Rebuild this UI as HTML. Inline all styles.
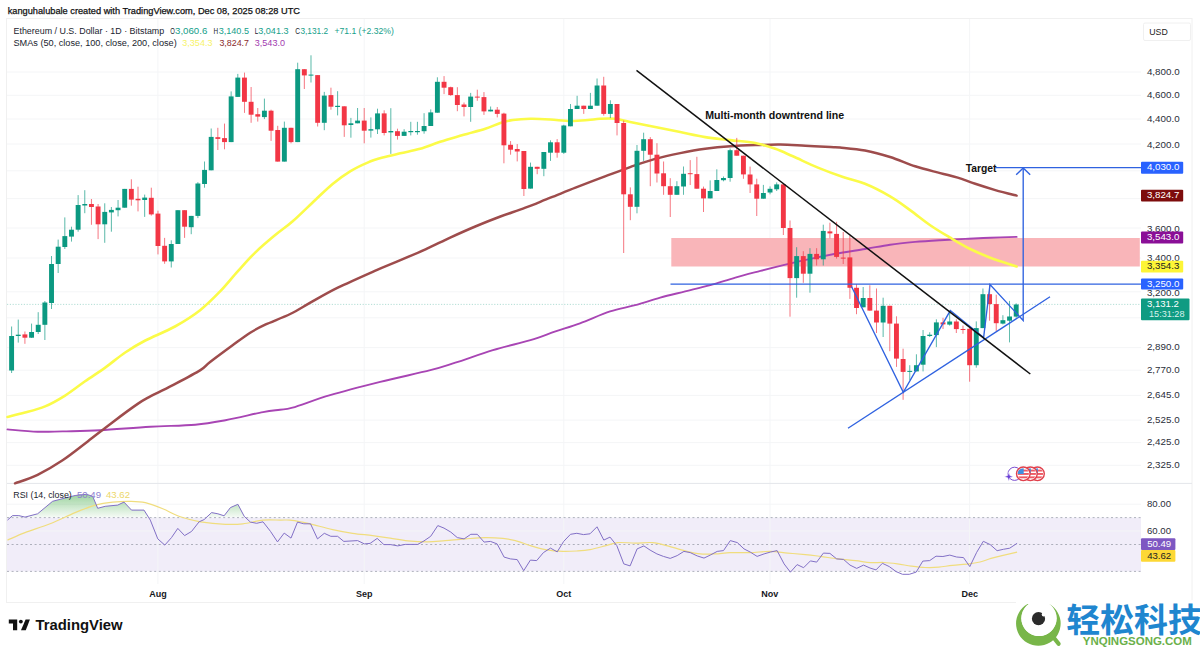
<!DOCTYPE html><html><head><meta charset="utf-8"><title>ETHUSD</title>
<style>html,body{margin:0;padding:0;background:#fff}body{width:1200px;height:647px;overflow:hidden;font-family:"Liberation Sans",sans-serif}svg{display:block}text{font-family:"Liberation Sans",sans-serif}</style></head><body>
<svg width="1200" height="647" viewBox="0 0 1200 647">
<rect width="1200" height="647" fill="#fff"/>
<rect x="6.5" y="18.5" width="1185.5" height="584" fill="none" stroke="#f0f0f0" stroke-width="1"/>
<rect x="7" y="517.6" width="1134" height="53.8" fill="#f1edf9"/>
<line x1="7" x2="1141" y1="72" y2="72" stroke="#f4f5f7" stroke-width="1"/>
<line x1="7" x2="1141" y1="95.3" y2="95.3" stroke="#f4f5f7" stroke-width="1"/>
<line x1="7" x2="1141" y1="119" y2="119" stroke="#f4f5f7" stroke-width="1"/>
<line x1="7" x2="1141" y1="144" y2="144" stroke="#f4f5f7" stroke-width="1"/>
<line x1="7" x2="1141" y1="170.8" y2="170.8" stroke="#f4f5f7" stroke-width="1"/>
<line x1="7" x2="1141" y1="198.6" y2="198.6" stroke="#f4f5f7" stroke-width="1"/>
<line x1="7" x2="1141" y1="228" y2="228" stroke="#f4f5f7" stroke-width="1"/>
<line x1="7" x2="1141" y1="258" y2="258" stroke="#f4f5f7" stroke-width="1"/>
<line x1="7" x2="1141" y1="291.8" y2="291.8" stroke="#f4f5f7" stroke-width="1"/>
<line x1="7" x2="1141" y1="317.8" y2="317.8" stroke="#f4f5f7" stroke-width="1"/>
<line x1="7" x2="1141" y1="347.6" y2="347.6" stroke="#f4f5f7" stroke-width="1"/>
<line x1="7" x2="1141" y1="370.2" y2="370.2" stroke="#f4f5f7" stroke-width="1"/>
<line x1="7" x2="1141" y1="395.4" y2="395.4" stroke="#f4f5f7" stroke-width="1"/>
<line x1="7" x2="1141" y1="420.1" y2="420.1" stroke="#f4f5f7" stroke-width="1"/>
<line x1="7" x2="1141" y1="442.6" y2="442.6" stroke="#f4f5f7" stroke-width="1"/>
<line x1="7" x2="1141" y1="465.3" y2="465.3" stroke="#f4f5f7" stroke-width="1"/>
<line x1="7" x2="1141" y1="504.2" y2="504.2" stroke="#f4f5f7" stroke-width="1"/>
<line x1="7" x2="1141" y1="531" y2="531" stroke="#f4f5f7" stroke-width="1"/>
<line x1="157.9" x2="157.9" y1="19" y2="584" stroke="#f4f5f7" stroke-width="1"/>
<line x1="364.2" x2="364.2" y1="19" y2="584" stroke="#f4f5f7" stroke-width="1"/>
<line x1="563.8" x2="563.8" y1="19" y2="584" stroke="#f4f5f7" stroke-width="1"/>
<line x1="770" x2="770" y1="19" y2="584" stroke="#f4f5f7" stroke-width="1"/>
<line x1="969.6" x2="969.6" y1="19" y2="584" stroke="#f4f5f7" stroke-width="1"/>
<line x1="7" x2="1192" y1="483.4" y2="483.4" stroke="#e4e6ea" stroke-width="1"/>
<rect x="671.3" y="238" width="468.5" height="28.5" fill="#f9b5b9"/>
<line x1="7" x2="1141" y1="304.4" y2="304.4" stroke="#9fd6cb" stroke-width="0.8" stroke-dasharray="1.2 1.6"/>
<path d="M7.5 429.4 C12.5 429.8 28.4 431.4 37.6 431.7 C46.8 432.0 52.2 431.6 62.6 431.4 C73.0 431.1 85.6 431.0 100.2 430.2 C114.8 429.4 134.5 427.6 150.3 426.7 C166.2 425.8 182.8 425.8 195.3 424.7 C207.8 423.6 214.1 422.3 225.4 420.2 C236.7 418.1 253.9 413.9 263.0 412.1 C272.1 410.4 275.1 410.4 280.0 409.7 C284.9 409.0 284.1 410.1 292.5 407.7 C300.9 405.3 315.5 399.5 330.1 395.2 C344.7 390.9 363.5 386.1 380.2 381.9 C396.9 377.7 417.8 373.4 430.3 370.2 C442.8 367.0 444.9 366.0 455.3 362.7 C465.7 359.4 480.4 353.9 492.9 350.1 C505.4 346.3 520.0 343.2 530.4 340.1 C540.8 337.0 547.2 334.2 555.5 331.4 C563.8 328.6 570.9 326.6 580.0 323.3 C589.1 320.0 600.9 314.4 610.1 311.4 C619.3 308.4 626.8 307.5 635.1 305.2 C643.5 302.9 651.9 300.0 660.2 297.7 C668.6 295.4 676.9 293.5 685.2 291.4 C693.6 289.3 701.9 287.4 710.3 285.1 C718.6 282.8 726.9 280.0 735.3 277.6 C743.6 275.2 752.0 273.1 760.4 270.9 C768.8 268.7 777.1 266.6 785.4 264.6 C793.7 262.6 802.0 260.7 810.4 258.9 C818.8 257.1 826.4 255.5 835.5 253.8 C844.6 252.2 855.9 250.5 865.0 249.0 C874.1 247.5 881.8 245.9 890.1 244.7 C898.5 243.5 906.8 242.7 915.1 241.9 C923.5 241.2 931.9 240.7 940.2 240.2 C948.6 239.7 956.9 239.3 965.2 238.9 C973.6 238.5 981.7 238.0 990.3 237.7 C998.9 237.4 1012.2 237.0 1016.6 236.9" fill="none" stroke="#a845b4" stroke-width="1.9" stroke-linecap="round"/>
<path d="M15.0 483.3 C18.8 481.9 29.7 478.7 37.6 474.8 C45.5 470.9 54.2 465.8 62.6 460.2 C71.0 454.6 79.4 447.7 87.7 441.4 C96.0 435.1 104.4 428.4 112.7 422.2 C121.0 415.9 131.4 408.2 137.7 403.9 C144.0 399.6 144.0 399.8 150.3 396.4 C156.6 393.0 167.0 388.2 175.3 383.8 C183.7 379.4 194.6 373.7 200.4 370.1 C206.2 366.5 204.7 366.1 210.1 362.0 C215.5 357.9 225.9 350.2 232.6 345.3 C239.3 340.4 244.8 336.1 250.2 332.7 C255.6 329.3 258.5 327.8 265.2 324.7 C271.9 321.6 282.7 317.7 290.2 314.0 C297.7 310.3 302.4 307.1 310.3 302.7 C318.2 298.3 327.0 293.0 337.8 287.7 C348.6 282.4 365.0 275.2 375.4 270.6 C385.8 266.0 392.0 263.7 400.4 260.1 C408.8 256.6 417.2 253.1 425.5 249.3 C433.8 245.6 441.9 241.4 450.2 237.6 C458.5 233.8 466.9 230.0 475.3 226.5 C483.7 223.0 492.0 219.6 500.4 216.5 C508.8 213.4 517.1 210.8 525.4 207.7 C533.7 204.6 542.0 201.0 550.4 197.7 C558.8 194.4 566.4 191.2 575.5 187.7 C584.6 184.1 595.9 179.8 605.0 176.4 C614.1 173.0 621.8 170.0 630.1 167.1 C638.5 164.2 646.8 161.2 655.1 158.9 C663.5 156.6 671.9 154.8 680.2 153.1 C688.6 151.4 696.9 149.9 705.2 148.8 C713.6 147.7 721.9 146.9 730.3 146.3 C738.6 145.7 746.9 145.4 755.3 145.1 C763.6 144.8 772.0 144.5 780.4 144.6 C788.8 144.7 797.1 145.4 805.4 145.8 C813.7 146.2 824.6 146.8 830.4 147.1 C836.2 147.4 834.2 146.9 840.0 147.5 C845.8 148.1 856.6 148.9 865.0 150.5 C873.4 152.1 881.8 154.4 890.1 157.0 C898.5 159.6 906.8 163.6 915.1 166.3 C923.5 169.0 933.1 171.2 940.2 173.1 C947.3 175.0 951.9 175.8 957.7 177.6 C963.5 179.4 968.9 181.7 975.2 183.8 C981.5 185.9 988.4 188.1 995.3 190.1 C1002.2 192.1 1013.0 194.7 1016.6 195.6" fill="none" stroke="#9e4c4c" stroke-width="2.5" stroke-linecap="round"/>
<path d="M7.5 416.9 C10.4 416.2 18.7 414.4 25.0 412.6 C31.3 410.9 38.4 409.2 45.1 406.4 C51.8 403.6 58.4 399.8 65.1 395.6 C71.8 391.4 78.4 386.0 85.1 381.3 C91.8 376.6 98.5 372.4 105.2 367.6 C111.9 362.8 118.5 357.0 125.2 352.5 C131.9 348.0 137.0 344.8 145.3 340.5 C153.6 336.2 165.9 331.6 175.0 326.5 C184.1 321.4 192.6 316.1 200.1 310.2 C207.6 304.3 213.8 297.9 220.1 291.4 C226.4 284.9 231.8 277.9 237.7 271.4 C243.5 264.9 248.9 258.6 255.2 252.6 C261.4 246.6 268.9 240.3 275.2 235.1 C281.4 229.9 286.1 227.1 292.7 221.3 C299.3 215.5 308.4 206.4 315.0 200.2 C321.6 194.0 326.8 188.7 332.6 183.9 C338.5 179.1 344.3 175.0 350.1 171.4 C355.9 167.8 362.2 164.9 367.6 162.6 C373.0 160.3 377.2 159.1 382.6 157.6 C388.0 156.1 393.9 154.8 400.2 153.3 C406.5 151.8 413.5 150.7 420.2 148.8 C426.9 146.9 433.1 144.1 440.2 141.8 C447.3 139.5 455.3 137.3 462.8 135.1 C470.3 132.9 479.0 130.8 485.3 128.8 C491.6 126.8 495.8 124.5 500.4 123.0 C505.0 121.5 507.9 120.7 512.9 120.0 C517.9 119.3 524.1 118.9 530.4 118.8 C536.6 118.7 543.7 119.1 550.4 119.5 C557.1 119.9 564.2 120.9 570.5 121.0 C576.8 121.1 583.1 120.4 588.0 120.0 C592.9 119.6 595.5 119.0 600.0 118.8 C604.5 118.6 610.0 118.3 615.0 118.8 C620.0 119.3 623.4 120.6 630.1 122.0 C636.8 123.4 646.8 125.3 655.1 127.0 C663.5 128.7 671.9 130.4 680.2 132.1 C688.6 133.8 696.9 135.8 705.2 137.1 C713.6 138.4 721.9 139.1 730.3 140.1 C738.6 141.1 747.8 141.6 755.3 143.1 C762.8 144.6 769.0 146.6 775.3 148.8 C781.6 151.0 785.8 153.2 792.9 156.3 C800.0 159.4 809.5 164.2 817.9 167.6 C826.2 171.0 835.1 174.3 843.0 177.0 C850.9 179.7 857.1 180.6 865.0 183.8 C872.9 187.0 882.6 192.0 890.1 196.4 C897.6 200.8 903.4 205.3 910.1 210.1 C916.8 214.9 923.5 220.6 930.2 225.2 C936.9 229.8 943.5 233.7 950.2 237.7 C956.9 241.7 963.5 245.7 970.2 249.0 C976.9 252.3 982.6 254.8 990.3 257.7 C998.0 260.6 1012.2 265.0 1016.6 266.5" fill="none" stroke="#fbfb48" stroke-width="2.6" stroke-linecap="round"/>
<line x1="11.60" x2="11.60" y1="326.5" y2="373.0" stroke="#0b9981" stroke-width="0.9" opacity="0.75"/>
<rect x="9.15" y="336.0" width="4.9" height="34.5" fill="#0b9981"/>
<line x1="18.25" x2="18.25" y1="319.6" y2="342.6" stroke="#0b9981" stroke-width="0.9" opacity="0.75"/>
<rect x="15.80" y="334.7" width="4.9" height="1.3" fill="#0b9981"/>
<line x1="24.91" x2="24.91" y1="331.5" y2="343.8" stroke="#f23645" stroke-width="0.9" opacity="0.75"/>
<rect x="22.46" y="334.4" width="4.9" height="3.3" fill="#f23645"/>
<line x1="31.56" x2="31.56" y1="323.6" y2="338.0" stroke="#0b9981" stroke-width="0.9" opacity="0.75"/>
<rect x="29.11" y="332.0" width="4.9" height="5.7" fill="#0b9981"/>
<line x1="38.21" x2="38.21" y1="312.2" y2="334.0" stroke="#0b9981" stroke-width="0.9" opacity="0.75"/>
<rect x="35.76" y="324.8" width="4.9" height="7.2" fill="#0b9981"/>
<line x1="44.87" x2="44.87" y1="301.0" y2="340.0" stroke="#0b9981" stroke-width="0.9" opacity="0.75"/>
<rect x="42.41" y="302.5" width="4.9" height="22.3" fill="#0b9981"/>
<line x1="51.52" x2="51.52" y1="256.0" y2="309.0" stroke="#0b9981" stroke-width="0.9" opacity="0.75"/>
<rect x="49.07" y="264.0" width="4.9" height="39.0" fill="#0b9981"/>
<line x1="58.17" x2="58.17" y1="239.6" y2="273.0" stroke="#0b9981" stroke-width="0.9" opacity="0.75"/>
<rect x="55.72" y="246.7" width="4.9" height="17.3" fill="#0b9981"/>
<line x1="64.82" x2="64.82" y1="217.4" y2="249.0" stroke="#0b9981" stroke-width="0.9" opacity="0.75"/>
<rect x="62.37" y="236.1" width="4.9" height="10.9" fill="#0b9981"/>
<line x1="71.48" x2="71.48" y1="226.7" y2="241.6" stroke="#0b9981" stroke-width="0.9" opacity="0.75"/>
<rect x="69.03" y="229.7" width="4.9" height="6.9" fill="#0b9981"/>
<line x1="78.13" x2="78.13" y1="195.1" y2="231.7" stroke="#0b9981" stroke-width="0.9" opacity="0.75"/>
<rect x="75.68" y="205.0" width="4.9" height="24.7" fill="#0b9981"/>
<line x1="84.78" x2="84.78" y1="190.2" y2="213.2" stroke="#0b9981" stroke-width="0.9" opacity="0.75"/>
<rect x="82.33" y="204.0" width="4.9" height="1.5" fill="#0b9981"/>
<line x1="91.44" x2="91.44" y1="199.0" y2="224.8" stroke="#f23645" stroke-width="0.9" opacity="0.75"/>
<rect x="88.99" y="204.0" width="4.9" height="3.0" fill="#f23645"/>
<line x1="98.09" x2="98.09" y1="204.0" y2="239.1" stroke="#f23645" stroke-width="0.9" opacity="0.75"/>
<rect x="95.64" y="206.5" width="4.9" height="17.8" fill="#f23645"/>
<line x1="104.74" x2="104.74" y1="203.3" y2="242.8" stroke="#0b9981" stroke-width="0.9" opacity="0.75"/>
<rect x="102.29" y="211.9" width="4.9" height="12.4" fill="#0b9981"/>
<line x1="111.39" x2="111.39" y1="207.0" y2="231.7" stroke="#0b9981" stroke-width="0.9" opacity="0.75"/>
<rect x="108.94" y="209.9" width="4.9" height="2.5" fill="#0b9981"/>
<line x1="118.05" x2="118.05" y1="200.0" y2="216.4" stroke="#0b9981" stroke-width="0.9" opacity="0.75"/>
<rect x="115.60" y="207.7" width="4.9" height="2.5" fill="#0b9981"/>
<line x1="124.70" x2="124.70" y1="188.9" y2="207.7" stroke="#0b9981" stroke-width="0.9" opacity="0.75"/>
<rect x="122.25" y="188.9" width="4.9" height="18.8" fill="#0b9981"/>
<line x1="131.35" x2="131.35" y1="179.3" y2="205.7" stroke="#f23645" stroke-width="0.9" opacity="0.75"/>
<rect x="128.90" y="188.9" width="4.9" height="10.7" fill="#f23645"/>
<line x1="138.01" x2="138.01" y1="186.7" y2="211.4" stroke="#f23645" stroke-width="0.9" opacity="0.75"/>
<rect x="135.56" y="198.8" width="4.9" height="1.5" fill="#f23645"/>
<line x1="144.66" x2="144.66" y1="194.6" y2="216.9" stroke="#0b9981" stroke-width="0.9" opacity="0.75"/>
<rect x="142.21" y="197.6" width="4.9" height="2.4" fill="#0b9981"/>
<line x1="151.31" x2="151.31" y1="187.7" y2="215.6" stroke="#f23645" stroke-width="0.9" opacity="0.75"/>
<rect x="148.86" y="197.8" width="4.9" height="16.6" fill="#f23645"/>
<line x1="157.97" x2="157.97" y1="210.7" y2="254.4" stroke="#f23645" stroke-width="0.9" opacity="0.75"/>
<rect x="155.52" y="213.6" width="4.9" height="32.4" fill="#f23645"/>
<line x1="164.62" x2="164.62" y1="237.9" y2="263.8" stroke="#f23645" stroke-width="0.9" opacity="0.75"/>
<rect x="162.17" y="245.8" width="4.9" height="15.6" fill="#f23645"/>
<line x1="171.27" x2="171.27" y1="240.3" y2="267.5" stroke="#0b9981" stroke-width="0.9" opacity="0.75"/>
<rect x="168.82" y="244.0" width="4.9" height="17.4" fill="#0b9981"/>
<line x1="177.92" x2="177.92" y1="210.2" y2="244.0" stroke="#0b9981" stroke-width="0.9" opacity="0.75"/>
<rect x="175.47" y="210.2" width="4.9" height="33.8" fill="#0b9981"/>
<line x1="184.58" x2="184.58" y1="210.2" y2="237.9" stroke="#f23645" stroke-width="0.9" opacity="0.75"/>
<rect x="182.13" y="210.2" width="4.9" height="16.5" fill="#f23645"/>
<line x1="191.23" x2="191.23" y1="215.9" y2="234.2" stroke="#0b9981" stroke-width="0.9" opacity="0.75"/>
<rect x="188.78" y="215.9" width="4.9" height="11.3" fill="#0b9981"/>
<line x1="197.88" x2="197.88" y1="182.2" y2="218.1" stroke="#0b9981" stroke-width="0.9" opacity="0.75"/>
<rect x="195.43" y="183.5" width="4.9" height="32.4" fill="#0b9981"/>
<line x1="204.54" x2="204.54" y1="161.5" y2="187.7" stroke="#0b9981" stroke-width="0.9" opacity="0.75"/>
<rect x="202.09" y="169.9" width="4.9" height="14.1" fill="#0b9981"/>
<line x1="211.19" x2="211.19" y1="128.5" y2="170.3" stroke="#0b9981" stroke-width="0.9" opacity="0.75"/>
<rect x="208.74" y="136.9" width="4.9" height="33.4" fill="#0b9981"/>
<line x1="217.84" x2="217.84" y1="127.8" y2="150.0" stroke="#f23645" stroke-width="0.9" opacity="0.75"/>
<rect x="215.39" y="137.2" width="4.9" height="1.7" fill="#f23645"/>
<line x1="224.50" x2="224.50" y1="123.6" y2="149.3" stroke="#f23645" stroke-width="0.9" opacity="0.75"/>
<rect x="222.05" y="138.1" width="4.9" height="4.0" fill="#f23645"/>
<line x1="231.15" x2="231.15" y1="91.4" y2="142.1" stroke="#0b9981" stroke-width="0.9" opacity="0.75"/>
<rect x="228.70" y="96.4" width="4.9" height="45.7" fill="#0b9981"/>
<line x1="237.80" x2="237.80" y1="73.9" y2="96.9" stroke="#0b9981" stroke-width="0.9" opacity="0.75"/>
<rect x="235.35" y="77.6" width="4.9" height="19.3" fill="#0b9981"/>
<line x1="244.45" x2="244.45" y1="72.6" y2="112.9" stroke="#f23645" stroke-width="0.9" opacity="0.75"/>
<rect x="242.00" y="77.6" width="4.9" height="24.2" fill="#f23645"/>
<line x1="251.11" x2="251.11" y1="87.0" y2="122.8" stroke="#f23645" stroke-width="0.9" opacity="0.75"/>
<rect x="248.66" y="101.8" width="4.9" height="12.9" fill="#f23645"/>
<line x1="257.76" x2="257.76" y1="108.0" y2="121.6" stroke="#f23645" stroke-width="0.9" opacity="0.75"/>
<rect x="255.31" y="114.2" width="4.9" height="2.4" fill="#f23645"/>
<line x1="264.41" x2="264.41" y1="98.6" y2="119.1" stroke="#0b9981" stroke-width="0.9" opacity="0.75"/>
<rect x="261.96" y="110.7" width="4.9" height="6.4" fill="#0b9981"/>
<line x1="271.07" x2="271.07" y1="109.7" y2="140.9" stroke="#f23645" stroke-width="0.9" opacity="0.75"/>
<rect x="268.62" y="110.7" width="4.9" height="20.0" fill="#f23645"/>
<line x1="277.72" x2="277.72" y1="125.8" y2="161.6" stroke="#f23645" stroke-width="0.9" opacity="0.75"/>
<rect x="275.27" y="130.0" width="4.9" height="31.6" fill="#f23645"/>
<line x1="284.37" x2="284.37" y1="121.6" y2="161.6" stroke="#0b9981" stroke-width="0.9" opacity="0.75"/>
<rect x="281.92" y="127.8" width="4.9" height="33.8" fill="#0b9981"/>
<line x1="291.03" x2="291.03" y1="127.8" y2="143.3" stroke="#f23645" stroke-width="0.9" opacity="0.75"/>
<rect x="288.58" y="127.8" width="4.9" height="14.3" fill="#f23645"/>
<line x1="297.68" x2="297.68" y1="62.7" y2="142.1" stroke="#0b9981" stroke-width="0.9" opacity="0.75"/>
<rect x="295.23" y="69.2" width="4.9" height="72.9" fill="#0b9981"/>
<line x1="304.33" x2="304.33" y1="69.2" y2="89.0" stroke="#f23645" stroke-width="0.9" opacity="0.75"/>
<rect x="301.88" y="69.2" width="4.9" height="6.2" fill="#f23645"/>
<line x1="310.99" x2="310.99" y1="55.3" y2="82.5" stroke="#0b9981" stroke-width="0.9" opacity="0.75"/>
<rect x="308.54" y="74.6" width="4.9" height="1.0" fill="#0b9981"/>
<line x1="317.64" x2="317.64" y1="75.1" y2="126.5" stroke="#f23645" stroke-width="0.9" opacity="0.75"/>
<rect x="315.19" y="75.1" width="4.9" height="47.7" fill="#f23645"/>
<line x1="324.29" x2="324.29" y1="91.9" y2="130.2" stroke="#0b9981" stroke-width="0.9" opacity="0.75"/>
<rect x="321.84" y="95.6" width="4.9" height="27.2" fill="#0b9981"/>
<line x1="330.94" x2="330.94" y1="87.7" y2="109.7" stroke="#f23645" stroke-width="0.9" opacity="0.75"/>
<rect x="328.49" y="95.1" width="4.9" height="11.6" fill="#f23645"/>
<line x1="337.60" x2="337.60" y1="91.2" y2="115.4" stroke="#0b9981" stroke-width="0.9" opacity="0.75"/>
<rect x="335.15" y="105.8" width="4.9" height="1.2" fill="#0b9981"/>
<line x1="344.25" x2="344.25" y1="106.3" y2="136.9" stroke="#f23645" stroke-width="0.9" opacity="0.75"/>
<rect x="341.80" y="106.3" width="4.9" height="19.0" fill="#f23645"/>
<line x1="350.90" x2="350.90" y1="117.9" y2="137.7" stroke="#0b9981" stroke-width="0.9" opacity="0.75"/>
<rect x="348.45" y="123.3" width="4.9" height="1.7" fill="#0b9981"/>
<line x1="357.56" x2="357.56" y1="108.0" y2="123.3" stroke="#0b9981" stroke-width="0.9" opacity="0.75"/>
<rect x="355.11" y="120.6" width="4.9" height="2.7" fill="#0b9981"/>
<line x1="364.21" x2="364.21" y1="108.0" y2="143.3" stroke="#f23645" stroke-width="0.9" opacity="0.75"/>
<rect x="361.76" y="120.6" width="4.9" height="10.1" fill="#f23645"/>
<line x1="370.86" x2="370.86" y1="117.4" y2="137.6" stroke="#0b9981" stroke-width="0.9" opacity="0.75"/>
<rect x="368.41" y="129.2" width="4.9" height="1.4" fill="#0b9981"/>
<line x1="377.51" x2="377.51" y1="108.7" y2="134.0" stroke="#0b9981" stroke-width="0.9" opacity="0.75"/>
<rect x="375.06" y="113.4" width="4.9" height="15.9" fill="#0b9981"/>
<line x1="384.17" x2="384.17" y1="110.3" y2="135.4" stroke="#f23645" stroke-width="0.9" opacity="0.75"/>
<rect x="381.72" y="113.4" width="4.9" height="19.6" fill="#f23645"/>
<line x1="390.82" x2="390.82" y1="108.2" y2="153.9" stroke="#0b9981" stroke-width="0.9" opacity="0.75"/>
<rect x="388.37" y="131.0" width="4.9" height="1.4" fill="#0b9981"/>
<line x1="397.47" x2="397.47" y1="128.7" y2="139.6" stroke="#f23645" stroke-width="0.9" opacity="0.75"/>
<rect x="395.02" y="131.2" width="4.9" height="4.7" fill="#f23645"/>
<line x1="404.13" x2="404.13" y1="129.2" y2="135.9" stroke="#0b9981" stroke-width="0.9" opacity="0.75"/>
<rect x="401.68" y="131.7" width="4.9" height="4.2" fill="#0b9981"/>
<line x1="410.78" x2="410.78" y1="121.8" y2="135.4" stroke="#0b9981" stroke-width="0.9" opacity="0.75"/>
<rect x="408.33" y="131.0" width="4.9" height="1.2" fill="#0b9981"/>
<line x1="417.43" x2="417.43" y1="121.8" y2="134.7" stroke="#0b9981" stroke-width="0.9" opacity="0.75"/>
<rect x="414.98" y="131.0" width="4.9" height="1.2" fill="#0b9981"/>
<line x1="424.09" x2="424.09" y1="113.2" y2="133.7" stroke="#0b9981" stroke-width="0.9" opacity="0.75"/>
<rect x="421.64" y="126.0" width="4.9" height="5.2" fill="#0b9981"/>
<line x1="430.74" x2="430.74" y1="109.4" y2="126.0" stroke="#0b9981" stroke-width="0.9" opacity="0.75"/>
<rect x="428.29" y="112.4" width="4.9" height="13.6" fill="#0b9981"/>
<line x1="437.39" x2="437.39" y1="77.3" y2="112.7" stroke="#0b9981" stroke-width="0.9" opacity="0.75"/>
<rect x="434.94" y="81.8" width="4.9" height="30.9" fill="#0b9981"/>
<line x1="444.05" x2="444.05" y1="76.1" y2="94.1" stroke="#f23645" stroke-width="0.9" opacity="0.75"/>
<rect x="441.60" y="81.8" width="4.9" height="5.9" fill="#f23645"/>
<line x1="450.70" x2="450.70" y1="86.7" y2="95.8" stroke="#f23645" stroke-width="0.9" opacity="0.75"/>
<rect x="448.25" y="87.2" width="4.9" height="7.9" fill="#f23645"/>
<line x1="457.35" x2="457.35" y1="87.2" y2="111.2" stroke="#f23645" stroke-width="0.9" opacity="0.75"/>
<rect x="454.90" y="95.1" width="4.9" height="9.9" fill="#f23645"/>
<line x1="464.00" x2="464.00" y1="102.5" y2="116.4" stroke="#f23645" stroke-width="0.9" opacity="0.75"/>
<rect x="461.55" y="104.5" width="4.9" height="2.5" fill="#f23645"/>
<line x1="470.66" x2="470.66" y1="92.9" y2="121.8" stroke="#0b9981" stroke-width="0.9" opacity="0.75"/>
<rect x="468.21" y="96.6" width="4.9" height="10.4" fill="#0b9981"/>
<line x1="477.31" x2="477.31" y1="89.7" y2="100.8" stroke="#f23645" stroke-width="0.9" opacity="0.75"/>
<rect x="474.86" y="96.6" width="4.9" height="1.0" fill="#f23645"/>
<line x1="483.96" x2="483.96" y1="92.1" y2="114.9" stroke="#f23645" stroke-width="0.9" opacity="0.75"/>
<rect x="481.51" y="97.1" width="4.9" height="14.3" fill="#f23645"/>
<line x1="490.62" x2="490.62" y1="106.5" y2="111.4" stroke="#0b9981" stroke-width="0.9" opacity="0.75"/>
<rect x="488.17" y="109.7" width="4.9" height="1.7" fill="#0b9981"/>
<line x1="497.27" x2="497.27" y1="107.0" y2="117.4" stroke="#f23645" stroke-width="0.9" opacity="0.75"/>
<rect x="494.82" y="109.7" width="4.9" height="4.2" fill="#f23645"/>
<line x1="503.92" x2="503.92" y1="112.7" y2="163.3" stroke="#f23645" stroke-width="0.9" opacity="0.75"/>
<rect x="501.47" y="113.6" width="4.9" height="31.7" fill="#f23645"/>
<line x1="510.57" x2="510.57" y1="141.1" y2="154.7" stroke="#f23645" stroke-width="0.9" opacity="0.75"/>
<rect x="508.12" y="144.8" width="4.9" height="4.9" fill="#f23645"/>
<line x1="517.23" x2="517.23" y1="144.1" y2="161.4" stroke="#f23645" stroke-width="0.9" opacity="0.75"/>
<rect x="514.78" y="149.0" width="4.9" height="2.5" fill="#f23645"/>
<line x1="523.88" x2="523.88" y1="151.0" y2="196.0" stroke="#f23645" stroke-width="0.9" opacity="0.75"/>
<rect x="521.43" y="151.0" width="4.9" height="38.0" fill="#f23645"/>
<line x1="530.53" x2="530.53" y1="162.6" y2="188.6" stroke="#0b9981" stroke-width="0.9" opacity="0.75"/>
<rect x="528.08" y="166.8" width="4.9" height="21.8" fill="#0b9981"/>
<line x1="537.19" x2="537.19" y1="166.8" y2="174.2" stroke="#f23645" stroke-width="0.9" opacity="0.75"/>
<rect x="534.74" y="166.8" width="4.9" height="2.0" fill="#f23645"/>
<line x1="543.84" x2="543.84" y1="152.0" y2="176.2" stroke="#0b9981" stroke-width="0.9" opacity="0.75"/>
<rect x="541.39" y="152.0" width="4.9" height="16.8" fill="#0b9981"/>
<line x1="550.49" x2="550.49" y1="140.3" y2="160.9" stroke="#0b9981" stroke-width="0.9" opacity="0.75"/>
<rect x="548.04" y="142.3" width="4.9" height="10.4" fill="#0b9981"/>
<line x1="557.15" x2="557.15" y1="139.1" y2="157.7" stroke="#f23645" stroke-width="0.9" opacity="0.75"/>
<rect x="554.70" y="142.3" width="4.9" height="10.4" fill="#f23645"/>
<line x1="563.80" x2="563.80" y1="124.8" y2="153.9" stroke="#0b9981" stroke-width="0.9" opacity="0.75"/>
<rect x="561.35" y="125.5" width="4.9" height="27.2" fill="#0b9981"/>
<line x1="570.45" x2="570.45" y1="104.0" y2="126.3" stroke="#0b9981" stroke-width="0.9" opacity="0.75"/>
<rect x="568.00" y="109.0" width="4.9" height="17.3" fill="#0b9981"/>
<line x1="577.11" x2="577.11" y1="95.8" y2="109.0" stroke="#0b9981" stroke-width="0.9" opacity="0.75"/>
<rect x="574.65" y="105.7" width="4.9" height="3.3" fill="#0b9981"/>
<line x1="583.76" x2="583.76" y1="105.7" y2="113.9" stroke="#f23645" stroke-width="0.9" opacity="0.75"/>
<rect x="581.31" y="105.7" width="4.9" height="3.3" fill="#f23645"/>
<line x1="590.41" x2="590.41" y1="92.9" y2="109.0" stroke="#0b9981" stroke-width="0.9" opacity="0.75"/>
<rect x="587.96" y="105.7" width="4.9" height="3.3" fill="#0b9981"/>
<line x1="597.06" x2="597.06" y1="78.5" y2="105.7" stroke="#0b9981" stroke-width="0.9" opacity="0.75"/>
<rect x="594.61" y="85.5" width="4.9" height="20.2" fill="#0b9981"/>
<line x1="603.72" x2="603.72" y1="76.8" y2="115.6" stroke="#f23645" stroke-width="0.9" opacity="0.75"/>
<rect x="601.27" y="85.5" width="4.9" height="28.4" fill="#f23645"/>
<line x1="610.37" x2="610.37" y1="100.3" y2="118.1" stroke="#0b9981" stroke-width="0.9" opacity="0.75"/>
<rect x="607.92" y="104.0" width="4.9" height="9.9" fill="#0b9981"/>
<line x1="617.02" x2="617.02" y1="104.0" y2="135.4" stroke="#f23645" stroke-width="0.9" opacity="0.75"/>
<rect x="614.57" y="104.0" width="4.9" height="19.0" fill="#f23645"/>
<line x1="623.68" x2="623.68" y1="120.6" y2="253.0" stroke="#f23645" stroke-width="0.9" opacity="0.75"/>
<rect x="621.23" y="123.0" width="4.9" height="71.3" fill="#f23645"/>
<line x1="630.33" x2="630.33" y1="187.4" y2="220.2" stroke="#f23645" stroke-width="0.9" opacity="0.75"/>
<rect x="627.88" y="194.3" width="4.9" height="12.5" fill="#f23645"/>
<line x1="636.98" x2="636.98" y1="145.0" y2="213.3" stroke="#0b9981" stroke-width="0.9" opacity="0.75"/>
<rect x="634.53" y="150.8" width="4.9" height="56.0" fill="#0b9981"/>
<line x1="643.63" x2="643.63" y1="132.7" y2="160.9" stroke="#0b9981" stroke-width="0.9" opacity="0.75"/>
<rect x="641.18" y="139.2" width="4.9" height="11.6" fill="#0b9981"/>
<line x1="650.29" x2="650.29" y1="137.1" y2="186.2" stroke="#f23645" stroke-width="0.9" opacity="0.75"/>
<rect x="647.84" y="139.2" width="4.9" height="15.5" fill="#f23645"/>
<line x1="656.94" x2="656.94" y1="143.2" y2="182.5" stroke="#f23645" stroke-width="0.9" opacity="0.75"/>
<rect x="654.49" y="154.7" width="4.9" height="18.8" fill="#f23645"/>
<line x1="663.59" x2="663.59" y1="161.5" y2="194.8" stroke="#f23645" stroke-width="0.9" opacity="0.75"/>
<rect x="661.14" y="173.3" width="4.9" height="12.9" fill="#f23645"/>
<line x1="670.25" x2="670.25" y1="178.2" y2="217.0" stroke="#f23645" stroke-width="0.9" opacity="0.75"/>
<rect x="667.80" y="186.2" width="4.9" height="8.6" fill="#f23645"/>
<line x1="676.90" x2="676.90" y1="181.2" y2="194.8" stroke="#0b9981" stroke-width="0.9" opacity="0.75"/>
<rect x="674.45" y="186.2" width="4.9" height="8.6" fill="#0b9981"/>
<line x1="683.55" x2="683.55" y1="166.5" y2="194.8" stroke="#0b9981" stroke-width="0.9" opacity="0.75"/>
<rect x="681.10" y="173.8" width="4.9" height="12.7" fill="#0b9981"/>
<line x1="690.21" x2="690.21" y1="160.1" y2="185.0" stroke="#f23645" stroke-width="0.9" opacity="0.75"/>
<rect x="687.76" y="173.2" width="4.9" height="1.0" fill="#f23645"/>
<line x1="696.86" x2="696.86" y1="156.8" y2="188.7" stroke="#f23645" stroke-width="0.9" opacity="0.75"/>
<rect x="694.41" y="174.1" width="4.9" height="14.6" fill="#f23645"/>
<line x1="703.51" x2="703.51" y1="186.6" y2="212.0" stroke="#f23645" stroke-width="0.9" opacity="0.75"/>
<rect x="701.06" y="188.7" width="4.9" height="9.7" fill="#f23645"/>
<line x1="710.16" x2="710.16" y1="180.4" y2="198.4" stroke="#0b9981" stroke-width="0.9" opacity="0.75"/>
<rect x="707.71" y="191.0" width="4.9" height="7.4" fill="#0b9981"/>
<line x1="716.82" x2="716.82" y1="169.3" y2="191.0" stroke="#0b9981" stroke-width="0.9" opacity="0.75"/>
<rect x="714.37" y="180.0" width="4.9" height="11.0" fill="#0b9981"/>
<line x1="723.47" x2="723.47" y1="176.5" y2="181.3" stroke="#0b9981" stroke-width="0.9" opacity="0.75"/>
<rect x="721.02" y="178.0" width="4.9" height="2.2" fill="#0b9981"/>
<line x1="730.12" x2="730.12" y1="148.5" y2="181.7" stroke="#0b9981" stroke-width="0.9" opacity="0.75"/>
<rect x="727.67" y="150.2" width="4.9" height="27.8" fill="#0b9981"/>
<line x1="736.78" x2="736.78" y1="137.9" y2="155.7" stroke="#f23645" stroke-width="0.9" opacity="0.75"/>
<rect x="734.33" y="150.2" width="4.9" height="5.5" fill="#f23645"/>
<line x1="743.43" x2="743.43" y1="155.7" y2="178.8" stroke="#f23645" stroke-width="0.9" opacity="0.75"/>
<rect x="740.98" y="155.7" width="4.9" height="18.7" fill="#f23645"/>
<line x1="750.08" x2="750.08" y1="166.6" y2="193.0" stroke="#f23645" stroke-width="0.9" opacity="0.75"/>
<rect x="747.63" y="174.5" width="4.9" height="9.9" fill="#f23645"/>
<line x1="756.74" x2="756.74" y1="178.7" y2="216.0" stroke="#f23645" stroke-width="0.9" opacity="0.75"/>
<rect x="754.29" y="184.4" width="4.9" height="14.3" fill="#f23645"/>
<line x1="763.39" x2="763.39" y1="184.9" y2="198.7" stroke="#0b9981" stroke-width="0.9" opacity="0.75"/>
<rect x="760.94" y="193.0" width="4.9" height="5.7" fill="#0b9981"/>
<line x1="770.04" x2="770.04" y1="186.4" y2="194.3" stroke="#0b9981" stroke-width="0.9" opacity="0.75"/>
<rect x="767.59" y="188.8" width="4.9" height="3.7" fill="#0b9981"/>
<line x1="776.69" x2="776.69" y1="182.4" y2="191.0" stroke="#0b9981" stroke-width="0.9" opacity="0.75"/>
<rect x="774.24" y="184.4" width="4.9" height="4.9" fill="#0b9981"/>
<line x1="783.35" x2="783.35" y1="183.0" y2="235.0" stroke="#f23645" stroke-width="0.9" opacity="0.75"/>
<rect x="780.90" y="184.4" width="4.9" height="43.6" fill="#f23645"/>
<line x1="790.00" x2="790.00" y1="220.5" y2="316.7" stroke="#f23645" stroke-width="0.9" opacity="0.75"/>
<rect x="787.55" y="228.0" width="4.9" height="50.1" fill="#f23645"/>
<line x1="796.65" x2="796.65" y1="247.2" y2="297.7" stroke="#0b9981" stroke-width="0.9" opacity="0.75"/>
<rect x="794.20" y="256.1" width="4.9" height="22.0" fill="#0b9981"/>
<line x1="803.31" x2="803.31" y1="251.2" y2="282.8" stroke="#f23645" stroke-width="0.9" opacity="0.75"/>
<rect x="800.86" y="256.1" width="4.9" height="17.6" fill="#f23645"/>
<line x1="809.96" x2="809.96" y1="248.2" y2="292.7" stroke="#0b9981" stroke-width="0.9" opacity="0.75"/>
<rect x="807.51" y="253.9" width="4.9" height="19.8" fill="#0b9981"/>
<line x1="816.61" x2="816.61" y1="248.2" y2="265.5" stroke="#f23645" stroke-width="0.9" opacity="0.75"/>
<rect x="814.16" y="253.9" width="4.9" height="5.4" fill="#f23645"/>
<line x1="823.27" x2="823.27" y1="224.7" y2="265.5" stroke="#0b9981" stroke-width="0.9" opacity="0.75"/>
<rect x="820.82" y="230.9" width="4.9" height="28.4" fill="#0b9981"/>
<line x1="829.92" x2="829.92" y1="222.7" y2="238.3" stroke="#f23645" stroke-width="0.9" opacity="0.75"/>
<rect x="827.47" y="231.4" width="4.9" height="2.0" fill="#f23645"/>
<line x1="836.57" x2="836.57" y1="221.8" y2="258.6" stroke="#f23645" stroke-width="0.9" opacity="0.75"/>
<rect x="834.12" y="233.9" width="4.9" height="23.0" fill="#f23645"/>
<line x1="843.23" x2="843.23" y1="232.0" y2="264.0" stroke="#f23645" stroke-width="0.9" opacity="0.75"/>
<rect x="840.77" y="257.6" width="4.9" height="1.0" fill="#f23645"/>
<line x1="849.88" x2="849.88" y1="235.8" y2="298.9" stroke="#f23645" stroke-width="0.9" opacity="0.75"/>
<rect x="847.43" y="257.4" width="4.9" height="30.4" fill="#f23645"/>
<line x1="856.53" x2="856.53" y1="284.1" y2="314.2" stroke="#f23645" stroke-width="0.9" opacity="0.75"/>
<rect x="854.08" y="287.8" width="4.9" height="20.2" fill="#f23645"/>
<line x1="863.18" x2="863.18" y1="287.0" y2="307.3" stroke="#0b9981" stroke-width="0.9" opacity="0.75"/>
<rect x="860.73" y="298.0" width="4.9" height="9.3" fill="#0b9981"/>
<line x1="869.84" x2="869.84" y1="285.3" y2="310.8" stroke="#f23645" stroke-width="0.9" opacity="0.75"/>
<rect x="867.39" y="298.0" width="4.9" height="12.6" fill="#f23645"/>
<line x1="876.49" x2="876.49" y1="288.5" y2="333.0" stroke="#f23645" stroke-width="0.9" opacity="0.75"/>
<rect x="874.04" y="310.6" width="4.9" height="11.9" fill="#f23645"/>
<line x1="883.14" x2="883.14" y1="297.7" y2="337.0" stroke="#0b9981" stroke-width="0.9" opacity="0.75"/>
<rect x="880.69" y="305.8" width="4.9" height="16.7" fill="#0b9981"/>
<line x1="889.80" x2="889.80" y1="305.8" y2="351.2" stroke="#f23645" stroke-width="0.9" opacity="0.75"/>
<rect x="887.35" y="305.8" width="4.9" height="17.8" fill="#f23645"/>
<line x1="896.45" x2="896.45" y1="316.3" y2="366.9" stroke="#f23645" stroke-width="0.9" opacity="0.75"/>
<rect x="894.00" y="323.6" width="4.9" height="35.0" fill="#f23645"/>
<line x1="903.10" x2="903.10" y1="348.7" y2="399.8" stroke="#f23645" stroke-width="0.9" opacity="0.75"/>
<rect x="900.65" y="359.0" width="4.9" height="12.9" fill="#f23645"/>
<line x1="909.75" x2="909.75" y1="365.2" y2="380.0" stroke="#0b9981" stroke-width="0.9" opacity="0.75"/>
<rect x="907.30" y="370.9" width="4.9" height="1.0" fill="#0b9981"/>
<line x1="916.41" x2="916.41" y1="354.3" y2="371.4" stroke="#0b9981" stroke-width="0.9" opacity="0.75"/>
<rect x="913.96" y="365.2" width="4.9" height="6.2" fill="#0b9981"/>
<line x1="923.06" x2="923.06" y1="330.0" y2="371.4" stroke="#0b9981" stroke-width="0.9" opacity="0.75"/>
<rect x="920.61" y="336.0" width="4.9" height="28.7" fill="#0b9981"/>
<line x1="929.71" x2="929.71" y1="332.3" y2="337.0" stroke="#0b9981" stroke-width="0.9" opacity="0.75"/>
<rect x="927.26" y="334.7" width="4.9" height="1.3" fill="#0b9981"/>
<line x1="936.37" x2="936.37" y1="319.3" y2="347.1" stroke="#0b9981" stroke-width="0.9" opacity="0.75"/>
<rect x="933.92" y="322.4" width="4.9" height="12.7" fill="#0b9981"/>
<line x1="943.02" x2="943.02" y1="317.8" y2="329.0" stroke="#f23645" stroke-width="0.9" opacity="0.75"/>
<rect x="940.57" y="322.4" width="4.9" height="2.0" fill="#f23645"/>
<line x1="949.67" x2="949.67" y1="311.0" y2="325.6" stroke="#0b9981" stroke-width="0.9" opacity="0.75"/>
<rect x="947.22" y="321.5" width="4.9" height="3.1" fill="#0b9981"/>
<line x1="956.33" x2="956.33" y1="319.3" y2="333.0" stroke="#f23645" stroke-width="0.9" opacity="0.75"/>
<rect x="953.88" y="321.5" width="4.9" height="7.6" fill="#f23645"/>
<line x1="962.98" x2="962.98" y1="325.6" y2="333.8" stroke="#f23645" stroke-width="0.9" opacity="0.75"/>
<rect x="960.53" y="329.0" width="4.9" height="1.0" fill="#f23645"/>
<line x1="969.63" x2="969.63" y1="327.4" y2="381.7" stroke="#f23645" stroke-width="0.9" opacity="0.75"/>
<rect x="967.18" y="328.8" width="4.9" height="36.4" fill="#f23645"/>
<line x1="976.28" x2="976.28" y1="321.4" y2="367.7" stroke="#0b9981" stroke-width="0.9" opacity="0.75"/>
<rect x="973.83" y="328.1" width="4.9" height="37.1" fill="#0b9981"/>
<line x1="982.94" x2="982.94" y1="288.5" y2="328.1" stroke="#0b9981" stroke-width="0.9" opacity="0.75"/>
<rect x="980.49" y="294.2" width="4.9" height="33.9" fill="#0b9981"/>
<line x1="989.59" x2="989.59" y1="284.8" y2="320.7" stroke="#f23645" stroke-width="0.9" opacity="0.75"/>
<rect x="987.14" y="294.2" width="4.9" height="9.9" fill="#f23645"/>
<line x1="996.24" x2="996.24" y1="294.7" y2="331.3" stroke="#f23645" stroke-width="0.9" opacity="0.75"/>
<rect x="993.79" y="304.1" width="4.9" height="19.1" fill="#f23645"/>
<line x1="1002.90" x2="1002.90" y1="315.2" y2="324.4" stroke="#0b9981" stroke-width="0.9" opacity="0.75"/>
<rect x="1000.45" y="320.2" width="4.9" height="3.4" fill="#0b9981"/>
<line x1="1009.55" x2="1009.55" y1="300.9" y2="342.4" stroke="#0b9981" stroke-width="0.9" opacity="0.75"/>
<rect x="1007.10" y="316.5" width="4.9" height="4.2" fill="#0b9981"/>
<line x1="1016.20" x2="1016.20" y1="303.4" y2="317.7" stroke="#0b9981" stroke-width="0.9" opacity="0.75"/>
<rect x="1013.75" y="304.5" width="4.9" height="12.1" fill="#0b9981"/>
<line x1="670.5" x2="1141" y1="284.2" y2="284.2" stroke="#2f62e0" stroke-width="1.25"/>
<line x1="995.3" x2="1141" y1="167.6" y2="167.6" stroke="#2f62e0" stroke-width="1.25"/>
<line x1="848" y1="428.3" x2="1050" y2="296.8" stroke="#2f62e0" stroke-width="1.35"/>
<path d="M851.5 286.5 L903.3 392.4 L950.3 310.6 L983.6 337.6 L990 284.6 L1023.2 320.5 L1023.2 168.5" fill="none" stroke="#2f62e0" stroke-width="1.35" stroke-linejoin="miter"/>
<path d="M1016.2 174.8 L1023.2 167.9 L1030.2 174.8" fill="none" stroke="#2f62e0" stroke-width="1.35"/>
<line x1="636.5" y1="70.4" x2="1030.3" y2="374" stroke="#111" stroke-width="1.5"/>
<text x="705.2" y="119.2" font-size="10.4" font-weight="700" fill="#111" textLength="139" lengthAdjust="spacingAndGlyphs">Multi-month downtrend line</text>
<text x="965.7" y="171.6" font-size="10.4" font-weight="700" fill="#111" textLength="30.8" lengthAdjust="spacingAndGlyphs">Target</text>
<defs><linearGradient id="gg" gradientUnits="userSpaceOnUse" x1="0" x2="0" y1="492" y2="518"><stop offset="0" stop-color="#4caf50" stop-opacity="0.6"/><stop offset="1" stop-color="#4caf50" stop-opacity="0.04"/></linearGradient><clipPath id="c70"><rect x="0" y="480" width="1200" height="37.6"/></clipPath></defs>
<path d="M7.5 520.1 L12.5 515.6 L18.8 515.6 L25.0 517.1 L37.6 513.8 L52.6 501.3 L65.1 498.0 L75.1 495.5 L86.4 494.3 L92.7 496.3 L97.7 508.3 L105.2 506.3 L117.7 505.1 L124.0 502.1 L131.5 510.1 L144.0 510.1 L150.3 520.1 L157.8 538.9 L164.8 545.1 L171.5 537.6 L177.8 528.4 L184.6 535.6 L191.6 531.4 L199.1 521.8 L204.1 519.6 L211.6 512.6 L217.9 513.8 L224.1 515.8 L230.4 507.6 L237.9 504.3 L244.2 516.3 L250.4 522.1 L256.7 523.3 L263.0 521.8 L270.5 531.4 L277.5 541.9 L284.2 533.1 L291.0 538.1 L297.5 522.1 L303.8 523.8 L310.5 523.8 L317.5 538.9 L324.3 533.3 L330.8 536.3 L337.6 536.3 L343.8 541.4 L357.6 540.6 L364.4 543.9 L370.1 543.4 L377.2 538.4 L383.9 544.6 L390.7 544.6 L397.7 545.9 L405.2 544.4 L417.7 544.4 L424.0 540.9 L430.7 536.3 L437.8 525.6 L444.0 528.1 L450.8 532.1 L457.3 537.6 L464.1 538.9 L470.8 534.3 L477.3 534.3 L484.1 542.1 L490.4 541.4 L497.1 543.9 L504.1 557.1 L510.4 558.9 L517.2 559.6 L523.7 570.7 L530.4 560.1 L536.7 560.6 L543.4 552.6 L550.5 548.1 L557.2 551.9 L563.7 541.4 L570.5 534.3 L576.8 533.3 L583.5 534.6 L590.0 533.8 L597.0 526.8 L603.8 540.1 L610.0 537.1 L616.8 545.6 L623.8 563.9 L630.1 565.9 L637.1 548.9 L643.9 545.9 L650.1 550.1 L656.9 553.9 L663.4 556.4 L670.2 558.4 L677.2 555.6 L683.9 551.4 L690.2 552.6 L697.2 555.9 L704.0 558.1 L710.2 555.1 L717.2 551.4 L723.5 550.6 L730.3 540.6 L737.3 542.6 L744.0 548.9 L750.3 552.1 L757.1 556.4 L764.1 553.9 L770.3 552.1 L777.1 550.6 L784.1 563.9 L790.4 572.2 L797.1 564.6 L803.6 567.7 L810.4 560.9 L816.7 562.1 L823.4 553.1 L829.9 553.4 L836.7 558.9 L843.5 559.4 L850.0 565.1 L856.7 568.4 L863.5 565.1 L870.0 568.0 L876.0 569.9 L882.4 563.3 L889.3 566.6 L896.1 571.6 L902.5 574.3 L909.3 574.3 L916.2 572.1 L922.8 561.1 L929.7 560.6 L936.0 556.2 L942.9 556.5 L949.8 555.1 L956.6 557.0 L963.5 557.6 L969.8 566.6 L976.7 552.3 L983.3 541.3 L990.2 544.6 L997.1 550.7 L1003.4 549.3 L1009.7 548.2 L1017.1 543.3 L1017.1 517.6 L7.5 517.6Z" fill="url(#gg)" clip-path="url(#c70)"/>
<line x1="7" x2="1141" y1="517.6" y2="517.6" stroke="#8f93a0" stroke-width="0.7" stroke-dasharray="2 2.6"/>
<line x1="7" x2="1141" y1="544.5" y2="544.5" stroke="#8f93a0" stroke-width="0.7" stroke-dasharray="2 2.6"/>
<line x1="7" x2="1141" y1="571.4" y2="571.4" stroke="#8f93a0" stroke-width="0.7" stroke-dasharray="2 2.6"/>
<path d="M7.5 540.1 C10.4 538.9 17.9 535.3 25.0 532.6 C32.1 529.9 41.8 527.1 50.1 523.8 C58.5 520.5 67.6 515.7 75.1 512.6 C82.6 509.5 88.9 506.9 95.2 505.1 C101.5 503.4 106.9 502.7 112.7 502.1 C118.5 501.5 124.8 501.2 130.2 501.3 C135.6 501.4 139.9 501.4 145.3 502.6 C150.7 503.9 157.0 506.4 162.8 508.8 C168.6 511.2 174.0 514.6 180.3 516.8 C186.6 519.0 192.9 520.5 200.4 521.8 C207.9 523.0 218.3 524.0 225.4 524.3 C232.5 524.6 236.6 524.5 242.9 523.8 C249.2 523.1 256.7 520.7 263.0 520.1 C269.3 519.5 276.0 520.1 280.5 520.1 C285.0 520.1 286.3 519.8 290.0 520.1 C293.7 520.4 298.3 521.3 302.5 522.1 C306.7 522.9 310.0 523.9 315.0 525.1 C320.0 526.4 326.3 528.2 332.6 529.6 C338.9 531.0 345.9 532.3 352.6 533.3 C359.3 534.3 366.3 534.8 372.6 535.6 C378.9 536.4 384.4 537.2 390.2 538.1 C396.0 539.0 401.4 540.3 407.7 540.9 C413.9 541.5 421.4 541.9 427.7 541.9 C434.0 541.9 439.0 541.1 445.3 540.6 C451.6 540.1 458.6 539.4 465.3 538.9 C472.0 538.4 479.0 537.7 485.3 537.6 C491.6 537.5 497.9 537.9 502.9 538.4 C507.9 538.9 510.8 539.4 515.4 540.6 C520.0 541.8 525.4 544.1 530.4 545.6 C535.4 547.1 540.1 548.6 545.5 549.6 C550.9 550.6 557.6 551.2 563.0 551.4 C568.4 551.6 573.5 551.2 578.0 550.9 C582.5 550.6 585.5 550.4 590.0 549.6 C594.5 548.8 600.4 547.1 605.0 545.9 C609.6 544.7 612.6 543.1 617.6 542.6 C622.6 542.1 629.3 543.1 635.1 543.1 C640.9 543.1 647.2 542.1 652.6 542.6 C658.0 543.1 662.3 544.5 667.7 545.9 C673.1 547.3 679.8 549.6 685.2 550.9 C690.6 552.2 695.2 553.4 700.2 553.9 C705.2 554.4 710.2 554.1 715.2 553.9 C720.2 553.7 724.4 552.8 730.3 552.6 C736.1 552.4 743.6 552.8 750.3 552.6 C757.0 552.4 764.0 551.3 770.3 551.4 C776.6 551.5 782.0 552.6 787.9 553.1 C793.8 553.6 800.0 554.1 805.4 554.6 C810.8 555.1 815.0 555.7 820.4 556.4 C825.8 557.1 832.1 558.2 838.0 558.9 C843.9 559.6 850.1 560.0 855.5 560.6 C860.9 561.2 865.8 562.3 870.5 562.6 C875.2 562.9 879.3 562.3 883.8 562.5 C888.3 562.7 892.9 563.3 897.5 563.9 C902.1 564.5 906.7 565.5 911.3 566.1 C915.9 566.7 920.4 567.3 925.0 567.5 C929.6 567.7 934.2 567.6 938.8 567.2 C943.4 566.8 947.5 565.8 952.5 565.3 C957.5 564.8 964.4 564.4 969.0 563.9 C973.6 563.4 976.3 562.9 980.0 562.0 C983.7 561.1 987.3 559.5 991.0 558.4 C994.7 557.3 997.6 556.6 1002.0 555.6 C1006.4 554.6 1014.6 552.7 1017.1 552.1" fill="none" stroke="#f0dd7e" stroke-width="1.2"/>
<path d="M7.5 520.1 L12.5 515.6 L18.8 515.6 L25.0 517.1 L37.6 513.8 L52.6 501.3 L65.1 498.0 L75.1 495.5 L86.4 494.3 L92.7 496.3 L97.7 508.3 L105.2 506.3 L117.7 505.1 L124.0 502.1 L131.5 510.1 L144.0 510.1 L150.3 520.1 L157.8 538.9 L164.8 545.1 L171.5 537.6 L177.8 528.4 L184.6 535.6 L191.6 531.4 L199.1 521.8 L204.1 519.6 L211.6 512.6 L217.9 513.8 L224.1 515.8 L230.4 507.6 L237.9 504.3 L244.2 516.3 L250.4 522.1 L256.7 523.3 L263.0 521.8 L270.5 531.4 L277.5 541.9 L284.2 533.1 L291.0 538.1 L297.5 522.1 L303.8 523.8 L310.5 523.8 L317.5 538.9 L324.3 533.3 L330.8 536.3 L337.6 536.3 L343.8 541.4 L357.6 540.6 L364.4 543.9 L370.1 543.4 L377.2 538.4 L383.9 544.6 L390.7 544.6 L397.7 545.9 L405.2 544.4 L417.7 544.4 L424.0 540.9 L430.7 536.3 L437.8 525.6 L444.0 528.1 L450.8 532.1 L457.3 537.6 L464.1 538.9 L470.8 534.3 L477.3 534.3 L484.1 542.1 L490.4 541.4 L497.1 543.9 L504.1 557.1 L510.4 558.9 L517.2 559.6 L523.7 570.7 L530.4 560.1 L536.7 560.6 L543.4 552.6 L550.5 548.1 L557.2 551.9 L563.7 541.4 L570.5 534.3 L576.8 533.3 L583.5 534.6 L590.0 533.8 L597.0 526.8 L603.8 540.1 L610.0 537.1 L616.8 545.6 L623.8 563.9 L630.1 565.9 L637.1 548.9 L643.9 545.9 L650.1 550.1 L656.9 553.9 L663.4 556.4 L670.2 558.4 L677.2 555.6 L683.9 551.4 L690.2 552.6 L697.2 555.9 L704.0 558.1 L710.2 555.1 L717.2 551.4 L723.5 550.6 L730.3 540.6 L737.3 542.6 L744.0 548.9 L750.3 552.1 L757.1 556.4 L764.1 553.9 L770.3 552.1 L777.1 550.6 L784.1 563.9 L790.4 572.2 L797.1 564.6 L803.6 567.7 L810.4 560.9 L816.7 562.1 L823.4 553.1 L829.9 553.4 L836.7 558.9 L843.5 559.4 L850.0 565.1 L856.7 568.4 L863.5 565.1 L870.0 568.0 L876.0 569.9 L882.4 563.3 L889.3 566.6 L896.1 571.6 L902.5 574.3 L909.3 574.3 L916.2 572.1 L922.8 561.1 L929.7 560.6 L936.0 556.2 L942.9 556.5 L949.8 555.1 L956.6 557.0 L963.5 557.6 L969.8 566.6 L976.7 552.3 L983.3 541.3 L990.2 544.6 L997.1 550.7 L1003.4 549.3 L1009.7 548.2 L1017.1 543.3" fill="none" stroke="#8270c6" stroke-width="1.0" stroke-linejoin="round"/>
<text x="7.7" y="14.4" font-size="9.0" fill="#111" textLength="292.3" lengthAdjust="spacingAndGlyphs" stroke="#111" stroke-width="0.25">kanguhalubale created with TradingView.com, Dec 08, 2025 08:28 UTC</text>
<text x="13.5" y="34" font-size="8.4" fill="#20242e" textLength="150.7" lengthAdjust="spacingAndGlyphs">Ethereum / U.S. Dollar · 1D · Bitstamp</text>
<text x="170.2" y="34" font-size="8.4" fill="#20242e" textLength="4.6" lengthAdjust="spacingAndGlyphs">O</text>
<text x="175" y="34" font-size="8.4" fill="#14a08a" textLength="32.3" lengthAdjust="spacingAndGlyphs">3,060.6</text>
<text x="213.5" y="34" font-size="8.4" fill="#20242e" textLength="4.6" lengthAdjust="spacingAndGlyphs">H</text>
<text x="218.7" y="34" font-size="8.4" fill="#14a08a" textLength="30.3" lengthAdjust="spacingAndGlyphs">3,140.5</text>
<text x="254.8" y="34" font-size="8.4" fill="#20242e" textLength="3.5" lengthAdjust="spacingAndGlyphs">L</text>
<text x="258.3" y="34" font-size="8.4" fill="#14a08a" textLength="30.2" lengthAdjust="spacingAndGlyphs">3,041.3</text>
<text x="295.2" y="34" font-size="8.4" fill="#20242e" textLength="4.8" lengthAdjust="spacingAndGlyphs">C</text>
<text x="300.4" y="34" font-size="8.4" fill="#14a08a" textLength="27.7" lengthAdjust="spacingAndGlyphs">3,131.2</text>
<text x="334.4" y="34" font-size="8.4" fill="#14a08a" textLength="59.4" lengthAdjust="spacingAndGlyphs">+71.1 (+2.32%)</text>
<text x="13.5" y="46.2" font-size="8.4" fill="#20242e" textLength="163.2" lengthAdjust="spacingAndGlyphs">SMAs (50, close, 100, close, 200, close)</text>
<text x="182.3" y="46.2" font-size="8.4" fill="#f7f36a" textLength="30.2" lengthAdjust="spacingAndGlyphs">3,354.3</text>
<text x="219.4" y="46.2" font-size="8.4" fill="#8a2b2b" textLength="29.6" lengthAdjust="spacingAndGlyphs">3,824.7</text>
<text x="254.8" y="46.2" font-size="8.4" fill="#a23bb0" textLength="30.2" lengthAdjust="spacingAndGlyphs">3,543.0</text>
<text x="13.3" y="498" font-size="8.4" fill="#20242e" textLength="58.5" lengthAdjust="spacingAndGlyphs">RSI (14, close)</text>
<text x="77" y="498" font-size="8.4" fill="#8e7fd0" textLength="24" lengthAdjust="spacingAndGlyphs">50.49</text>
<text x="106" y="498" font-size="8.4" fill="#ecd76a" textLength="24" lengthAdjust="spacingAndGlyphs">43.62</text>
<rect x="1143.5" y="23" width="47" height="17.5" rx="1.5" fill="#fff" stroke="#f0f0f0" stroke-width="1"/>
<text x="1149.3" y="35.2" font-size="8.6" fill="#222" textLength="18.5" lengthAdjust="spacingAndGlyphs">USD</text>
<text x="1146.9" y="75.3" font-size="9.2" fill="#2a2e39" textLength="32.7" lengthAdjust="spacingAndGlyphs">4,800.0</text>
<text x="1146.9" y="97.89999999999999" font-size="9.2" fill="#2a2e39" textLength="32.7" lengthAdjust="spacingAndGlyphs">4,600.0</text>
<text x="1146.9" y="122.3" font-size="9.2" fill="#2a2e39" textLength="32.7" lengthAdjust="spacingAndGlyphs">4,400.0</text>
<text x="1146.9" y="147.8" font-size="9.2" fill="#2a2e39" textLength="32.7" lengthAdjust="spacingAndGlyphs">4,200.0</text>
<text x="1146.9" y="231.60000000000002" font-size="9.2" fill="#2a2e39" textLength="32.7" lengthAdjust="spacingAndGlyphs">3,600.0</text>
<text x="1146.9" y="261.3" font-size="9.2" fill="#2a2e39" textLength="32.7" lengthAdjust="spacingAndGlyphs">3,400.0</text>
<text x="1146.9" y="295.6" font-size="9.2" fill="#2a2e39" textLength="32.7" lengthAdjust="spacingAndGlyphs">3,200.0</text>
<text x="1146.9" y="350.40000000000003" font-size="9.2" fill="#2a2e39" textLength="32.7" lengthAdjust="spacingAndGlyphs">2,890.0</text>
<text x="1146.9" y="373.0" font-size="9.2" fill="#2a2e39" textLength="32.7" lengthAdjust="spacingAndGlyphs">2,770.0</text>
<text x="1146.9" y="398.3" font-size="9.2" fill="#2a2e39" textLength="32.7" lengthAdjust="spacingAndGlyphs">2,645.0</text>
<text x="1146.9" y="422.90000000000003" font-size="9.2" fill="#2a2e39" textLength="32.7" lengthAdjust="spacingAndGlyphs">2,525.0</text>
<text x="1146.9" y="444.90000000000003" font-size="9.2" fill="#2a2e39" textLength="32.7" lengthAdjust="spacingAndGlyphs">2,425.0</text>
<text x="1146.9" y="468.2" font-size="9.2" fill="#2a2e39" textLength="32.7" lengthAdjust="spacingAndGlyphs">2,325.0</text>
<text x="1147.0" y="506.8" font-size="9.2" fill="#2a2e39" textLength="24" lengthAdjust="spacingAndGlyphs">80.00</text>
<text x="1147.0" y="534.0" font-size="9.2" fill="#2a2e39" textLength="24" lengthAdjust="spacingAndGlyphs">60.00</text>
<rect x="1141" y="161.7" width="42.200000000000045" height="12.0" rx="1" fill="#2962ff"/>
<text x="1146.9" y="170.39999999999998" font-size="9.2" fill="#fff" textLength="32.4" lengthAdjust="spacingAndGlyphs">4,030.0</text>
<rect x="1141" y="189.8" width="42.200000000000045" height="11.799999999999983" rx="1" fill="#7d0c0c"/>
<text x="1146.9" y="198.39999999999998" font-size="9.2" fill="#fff" textLength="32.4" lengthAdjust="spacingAndGlyphs">3,824.7</text>
<rect x="1141" y="231.6" width="42.200000000000045" height="11.800000000000011" rx="1" fill="#8a0f97"/>
<text x="1146.9" y="240.2" font-size="9.2" fill="#fff" textLength="32.4" lengthAdjust="spacingAndGlyphs">3,543.0</text>
<rect x="1141" y="260.8" width="42.200000000000045" height="11.800000000000011" rx="1" fill="#fdf536"/>
<text x="1146.9" y="269.40000000000003" font-size="9.2" fill="#222" textLength="32.4" lengthAdjust="spacingAndGlyphs">3,354.3</text>
<rect x="1141" y="278.6" width="42.200000000000045" height="11.0" rx="1" fill="#2962ff"/>
<text x="1146.9" y="286.8" font-size="9.2" fill="#fff" textLength="32.4" lengthAdjust="spacingAndGlyphs">3,250.0</text>
<rect x="1141" y="298.6" width="48.5" height="21.6" rx="1" fill="#0f9b82"/>
<text x="1146.9" y="307.4" font-size="9.2" fill="#fff" textLength="32" lengthAdjust="spacingAndGlyphs">3,131.2</text>
<text x="1149.0" y="317.2" font-size="9.4" fill="#d9f2ec" textLength="35.5" lengthAdjust="spacingAndGlyphs">15:31:28</text>
<rect x="1141" y="538.3" width="34.4" height="11.8" rx="1" fill="#7e57c2"/>
<text x="1147.2" y="547.0" font-size="9.2" fill="#fff" textLength="24" lengthAdjust="spacingAndGlyphs">50.49</text>
<rect x="1141" y="550.1" width="34.4" height="11.7" rx="1" fill="#fdd835"/>
<text x="1147.2" y="558.7" font-size="9.2" fill="#222" textLength="24" lengthAdjust="spacingAndGlyphs">43.62</text>
<text x="157.9" y="597.2" font-size="9.0" fill="#16181d" text-anchor="middle" font-weight="700">Aug</text>
<text x="364.3" y="597.2" font-size="9.0" fill="#16181d" text-anchor="middle" font-weight="700">Sep</text>
<text x="563.7" y="597.2" font-size="9.0" fill="#16181d" text-anchor="middle" font-weight="700">Oct</text>
<text x="769.8" y="597.2" font-size="9.0" fill="#16181d" text-anchor="middle" font-weight="700">Nov</text>
<text x="969.8" y="597.2" font-size="9.0" fill="#16181d" text-anchor="middle" font-weight="700">Dec</text>
<g>
<circle cx="1014.6" cy="473.8" r="6.6" fill="#fff" stroke="#7a4fd0" stroke-width="1"/>
<path d="M1008.8 472.2 L1009.9 475.6 L1013.2 476.7 L1009.9 477.8 L1008.8 481.2 L1007.7 477.8 L1004.4 476.7 L1007.7 475.6Z" fill="#6a3fd6" stroke="#fff" stroke-width="0.5"/>
<g><circle cx="1037.5" cy="473.8" r="6.8" fill="#fff" stroke="#e0404c" stroke-width="1.4"/>
<clipPath id="f1037"><circle cx="1037.5" cy="473.8" r="5.6"/></clipPath><g clip-path="url(#f1037)">
<rect x="1031.5" y="469.6" width="12" height="1.9" fill="#ee5a64"/>
<rect x="1031.5" y="473.0" width="12" height="1.9" fill="#ee5a64"/>
<rect x="1031.5" y="476.4" width="12" height="1.9" fill="#ee5a64"/>
<rect x="1031.5" y="468" width="6.4" height="6" fill="#3f8fe0"/></g></g>
<g><circle cx="1030.4" cy="473.8" r="6.8" fill="#fff" stroke="#e0404c" stroke-width="1.4"/>
<clipPath id="f1030"><circle cx="1030.4" cy="473.8" r="5.6"/></clipPath><g clip-path="url(#f1030)">
<rect x="1024.4" y="469.6" width="12" height="1.9" fill="#ee5a64"/>
<rect x="1024.4" y="473.0" width="12" height="1.9" fill="#ee5a64"/>
<rect x="1024.4" y="476.4" width="12" height="1.9" fill="#ee5a64"/>
<rect x="1024.4" y="468" width="6.4" height="6" fill="#3f8fe0"/></g></g>
<g><circle cx="1023.3" cy="473.8" r="6.8" fill="#fff" stroke="#e0404c" stroke-width="1.4"/>
<clipPath id="f1023"><circle cx="1023.3" cy="473.8" r="5.6"/></clipPath><g clip-path="url(#f1023)">
<rect x="1017.3" y="469.6" width="12" height="1.9" fill="#ee5a64"/>
<rect x="1017.3" y="473.0" width="12" height="1.9" fill="#ee5a64"/>
<rect x="1017.3" y="476.4" width="12" height="1.9" fill="#ee5a64"/>
<rect x="1017.3" y="468" width="6.4" height="6" fill="#3f8fe0"/></g></g>
</g>
<g transform="translate(8.8,617.0) scale(0.6)" fill="#111"><path d="M14 22H7V11H0V4h14v18z"/><path d="M28.3 22h-8l7.7-18h7.2L28.3 22z"/><circle cx="20.1" cy="7.7" r="3.2"/></g>
<text x="35.4" y="630.4" font-size="15.4" fill="#111" textLength="87.2" lengthAdjust="spacingAndGlyphs" font-weight="700">TradingView</text>
<rect x="1016" y="600" width="184" height="47" fill="#fff"/>
<g>
<path d="M1038.3 601.2 A22.3 22.3 0 1 0 1038.4 601.2 Z M1039 601.0 A17.5 17.5 0 1 1 1038.9 601.0 Z" fill="#78b649" fill-rule="evenodd"/>
<circle cx="1039" cy="618.3" r="17.7" fill="#fff"/>
<rect x="1027" y="598" width="22.5" height="6" fill="#fff"/>
<path d="M1054.2 638.2 L1058.6 643.8" stroke="#78b649" stroke-width="4.2" stroke-linecap="round"/>
<circle cx="1038.5" cy="618.7" r="6.6" fill="#2b2b2b"/><circle cx="1043.7" cy="614.6" r="2" fill="#fff"/>
<text x="1066.2" y="632" font-size="33.5" font-weight="700" fill="#1f86cf" textLength="135.8" lengthAdjust="spacingAndGlyphs" style="font-family:'Liberation Sans','Noto Sans CJK SC',sans-serif">轻松科技</text>
<text x="1082.8" y="645.3" font-size="11.0" fill="#6ab04a" textLength="109" lengthAdjust="spacingAndGlyphs" font-weight="700">YNQINGSONG.COM</text>
</g>
</svg></body></html>
